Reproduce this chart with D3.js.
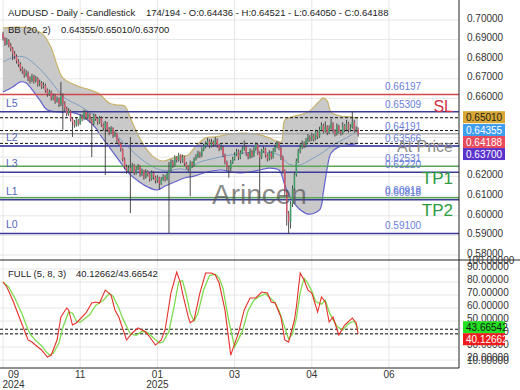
<!DOCTYPE html>
<html><head><meta charset="utf-8">
<script src="https://cdn.jsdelivr.net/npm/d3@7"></script>
<style>body{margin:0;background:#fff}svg{display:block;font-family:"Liberation Sans",Arial,sans-serif}</style>
</head><body><svg id="c" width="520" height="390"></svg>
<script>
// ---------- DATA ----------
const titleMain = "AUDUSD - Daily - Candlestick";
const titleBar = "174/194 - O:0.64436 - H:0.64521 - L:0.64050 - C:0.64188";
const bbTitle = "BB (20, 2)";
const bbLastText = "0.64355/0.65010/0.63700";
const stochTitle = "FULL (5, 8, 3)";
const stochLastText = "40.12662/43.66542";

const opens = [0.6930,0.6905,0.6880,0.6895,0.6870,0.6855,0.6830,0.6815,0.6790,0.6775,
0.6750,0.6740,0.6718,0.6730,0.6700,0.6690,0.6712,0.6688,0.6700,0.6672,
0.6680,0.6660,0.6668,0.6640,0.6620,0.6632,0.6600,0.6612,0.6585,0.6598,
0.6570,0.6612,0.6575,0.6548,0.6520,0.6535,0.6495,0.6478,0.6462,0.6488,
0.6470,0.6508,0.6495,0.6530,0.6500,0.6518,0.6488,0.6470,0.6512,0.6495,
0.6478,0.6500,0.6465,0.6448,0.6475,0.6440,0.6425,0.6448,0.6410,0.6420,
0.6385,0.6370,0.6340,0.6290,0.6250,0.6230,0.6245,0.6225,0.6258,0.6220,
0.6240,0.6252,0.6212,0.6230,0.6198,0.6225,0.6212,0.6188,0.6220,0.6198,
0.6180,0.6195,0.6165,0.6185,0.6200,0.6188,0.6215,0.6232,0.6275,0.6258,
0.6298,0.6285,0.6310,0.6280,0.6300,0.6268,0.6250,0.6238,0.6270,0.6258,
0.6290,0.6302,0.6320,0.6308,0.6338,0.6355,0.6368,0.6382,0.6358,0.6378,
0.6365,0.6388,0.6360,0.6342,0.6352,0.6310,0.6275,0.6248,0.6240,0.6272,
0.6290,0.6312,0.6330,0.6298,0.6322,0.6340,0.6352,0.6318,0.6300,0.6332,
0.6308,0.6340,0.6362,0.6320,0.6298,0.6330,0.6342,0.6310,0.6290,0.6322,
0.6300,0.6332,0.6352,0.6372,0.6345,0.6300,0.6230,0.6120,0.6010,0.5970,
0.6060,0.6140,0.6210,0.6280,0.6330,0.6352,0.6370,0.6358,0.6385,0.6402,
0.6390,0.6410,0.6392,0.6428,0.6405,0.6440,0.6462,0.6430,0.6455,0.6425,
0.6448,0.6470,0.6435,0.6418,0.6458,0.6432,0.6422,0.6460,0.6440,0.6472,
0.6438,0.6452,0.6480,0.6436,0.64436];
const highs = [0.6940,0.6912,0.6908,0.6902,0.6882,0.6862,0.6842,0.6825,0.6800,0.6785,
0.6762,0.6752,0.6745,0.6738,0.6712,0.6725,0.6720,0.6715,0.6708,0.6695,
0.6688,0.6682,0.6675,0.6650,0.6645,0.6640,0.6625,0.6620,0.6610,0.6605,
0.6684,0.6625,0.6585,0.6558,0.6550,0.6542,0.6505,0.6490,0.6500,0.6495,
0.6520,0.6518,0.6542,0.6538,0.6530,0.6525,0.6495,0.6522,0.6520,0.6502,
0.6510,0.6508,0.6472,0.6485,0.6480,0.6452,0.6458,0.6452,0.6432,0.6425,
0.6395,0.6378,0.6345,0.6298,0.6262,0.6258,0.6403,0.6270,0.6265,0.6252,
0.6265,0.6258,0.6242,0.6235,0.6238,0.6232,0.6218,0.6232,0.6228,0.6205,
0.6208,0.6200,0.6198,0.6212,0.6208,0.6225,0.6275,0.6288,0.6285,0.6310,
0.6305,0.6322,0.6315,0.6312,0.6305,0.6275,0.6258,0.6282,0.6278,0.6300,
0.6315,0.6332,0.6328,0.6350,0.6368,0.6380,0.6398,0.6390,0.6392,0.6385,
0.6403,0.6395,0.6368,0.6365,0.6358,0.6318,0.6282,0.6258,0.6285,0.6302,
0.6325,0.6342,0.6338,0.6335,0.6352,0.6385,0.6360,0.6325,0.6345,0.6338,
0.6352,0.6375,0.6368,0.6328,0.6342,0.6355,0.6348,0.6318,0.6335,0.6330,
0.6345,0.6365,0.6385,0.6380,0.6352,0.6308,0.6238,0.6130,0.6025,0.6075,
0.6155,0.6225,0.6292,0.6342,0.6365,0.6385,0.6380,0.6398,0.6418,0.6412,
0.6425,0.6418,0.6440,0.6435,0.6455,0.6478,0.6470,0.6482,0.6462,0.6462,
0.6495,0.6478,0.6442,0.6472,0.6465,0.6440,0.6478,0.6468,0.6490,0.6480,
0.6468,0.6535,0.6488,0.6458,0.64521];
const lows = [0.6895,0.6868,0.6872,0.6860,0.6840,0.6795,0.6800,0.6778,0.6760,0.6738,
0.6725,0.6705,0.6710,0.6688,0.6675,0.6682,0.6675,0.6680,0.6660,0.6662,
0.6648,0.6650,0.6628,0.6608,0.6612,0.6588,0.6590,0.6572,0.6578,0.6555,
0.6560,0.6440,0.6535,0.6508,0.6512,0.6482,0.6403,0.6450,0.6455,0.6458,
0.6465,0.6482,0.6488,0.6490,0.6492,0.6475,0.6300,0.6462,0.6485,0.6465,
0.6470,0.6455,0.6435,0.6208,0.6428,0.6412,0.6418,0.6398,0.6402,0.6372,
0.6358,0.6328,0.6278,0.6238,0.6215,0.6220,0.6014,0.6218,0.6208,0.6210,
0.6232,0.6200,0.6202,0.6185,0.6190,0.6200,0.6175,0.6180,0.6185,0.6165,
0.6168,0.6135,0.6158,0.6178,0.6175,0.6180,0.5912,0.6225,0.6245,0.6250,
0.6272,0.6278,0.6268,0.6272,0.6255,0.6238,0.6225,0.6100,0.6245,0.6250,
0.6282,0.6295,0.6296,0.6300,0.6330,0.6345,0.6360,0.6345,0.6350,0.6352,
0.6358,0.6348,0.6330,0.6335,0.6298,0.6262,0.6230,0.6195,0.6228,0.6265,
0.6282,0.6305,0.6285,0.6290,0.6315,0.6332,0.6305,0.6288,0.6292,0.6295,
0.6300,0.6332,0.6310,0.6091,0.6290,0.6322,0.6298,0.6278,0.6282,0.6288,
0.6292,0.6325,0.6345,0.6335,0.6285,0.6215,0.6100,0.5950,0.5907,0.5935,
0.6045,0.6130,0.6200,0.6270,0.6318,0.6340,0.6345,0.6350,0.6375,0.6378,
0.6382,0.6380,0.6385,0.6392,0.6398,0.6432,0.6420,0.6425,0.6412,0.6418,
0.6440,0.6422,0.6405,0.6410,0.6420,0.6410,0.6415,0.6428,0.6432,0.6425,
0.6430,0.6445,0.6425,0.6428,0.64050];
const closes = [0.6905,0.6880,0.6895,0.6870,0.6855,0.6830,0.6815,0.6790,0.6775,0.6750,
0.6740,0.6718,0.6730,0.6700,0.6690,0.6712,0.6688,0.6700,0.6672,0.6680,
0.6660,0.6668,0.6640,0.6620,0.6632,0.6600,0.6612,0.6585,0.6598,0.6570,
0.6612,0.6575,0.6548,0.6520,0.6535,0.6495,0.6478,0.6462,0.6488,0.6470,
0.6508,0.6495,0.6530,0.6500,0.6518,0.6488,0.6470,0.6512,0.6495,0.6478,
0.6500,0.6465,0.6448,0.6475,0.6440,0.6425,0.6448,0.6410,0.6420,0.6385,
0.6370,0.6340,0.6290,0.6250,0.6230,0.6245,0.6225,0.6258,0.6220,0.6240,
0.6252,0.6212,0.6230,0.6198,0.6225,0.6212,0.6188,0.6220,0.6198,0.6180,
0.6195,0.6165,0.6185,0.6200,0.6188,0.6215,0.6232,0.6275,0.6258,0.6298,
0.6285,0.6310,0.6280,0.6300,0.6268,0.6250,0.6238,0.6270,0.6258,0.6290,
0.6302,0.6320,0.6308,0.6338,0.6355,0.6368,0.6382,0.6358,0.6378,0.6365,
0.6388,0.6360,0.6342,0.6352,0.6310,0.6275,0.6248,0.6240,0.6272,0.6290,
0.6312,0.6330,0.6298,0.6322,0.6340,0.6352,0.6318,0.6300,0.6332,0.6308,
0.6340,0.6362,0.6320,0.6298,0.6330,0.6342,0.6310,0.6290,0.6322,0.6300,
0.6332,0.6352,0.6372,0.6345,0.6300,0.6230,0.6120,0.6010,0.5970,0.6060,
0.6140,0.6210,0.6280,0.6330,0.6352,0.6370,0.6358,0.6385,0.6402,0.6390,
0.6410,0.6392,0.6428,0.6405,0.6440,0.6462,0.6430,0.6455,0.6425,0.6448,
0.6470,0.6435,0.6418,0.6458,0.6432,0.6422,0.6460,0.6440,0.6472,0.6438,
0.6452,0.6480,0.6436,0.64436,0.64188];

// Bollinger bands (bar index, value)
const bbUpperIdx = [0,7,13,18,21,25,28,31,35,40,45,48,50,55,59,63,66,70,74,78,83,88,93,96,99,105,110,118,125,133,138,144,146,150,158,163,166,168,170,175,180,184];
const bbUpper = [0.6959,0.6964,0.6959,0.6944,0.6924,0.6857,0.6770,0.6704,0.6678,0.6658,0.6643,0.6632,0.6622,0.6576,0.6566,0.6561,0.6500,0.6413,0.6346,0.6301,0.6280,0.6295,0.6306,0.6311,0.6346,0.6398,0.6403,0.6418,0.6423,0.6413,0.6398,0.6377,0.6489,0.6505,0.6530,0.6576,0.6602,0.6587,0.6530,0.6510,0.6505,0.65010];
const bbLowerIdx = [0,5,9,12,14,19,23,30,35,40,48,50,55,60,65,70,75,80,84,89,94,99,106,113,118,123,128,133,138,143,146,149,153,158,164,166,168,170,174,179,184];
const bbLower = [0.6632,0.6658,0.6684,0.6678,0.6658,0.6592,0.6541,0.6530,0.6530,0.6515,0.6449,0.6418,0.6352,0.6285,0.6219,0.6178,0.6147,0.6132,0.6152,0.6173,0.6193,0.6203,0.6224,0.6234,0.6224,0.6219,0.6224,0.6234,0.6244,0.6234,0.6158,0.6091,0.6040,0.6009,0.6030,0.6122,0.6244,0.6321,0.6352,0.6362,0.63700];
const bbMidIdx = [0,6,11,17,22,27,32,40,48,53,56,60,66,71,76,81,86,92,96,101,110,118,125,133,143,148,153,160,166,171,178,184];
const bbMid = [0.6786,0.6811,0.6811,0.6770,0.6719,0.6658,0.6602,0.6560,0.6510,0.6470,0.6440,0.6400,0.6340,0.6295,0.6260,0.6236,0.6232,0.6240,0.6235,0.6270,0.6295,0.6311,0.6321,0.6326,0.6311,0.6265,0.6258,0.6290,0.6326,0.6362,0.6398,0.64355];
const bbLast = [0.65010, 0.64355, 0.63700];

// Stochastic %K (red) and %D (green)
const stochKIdx = [0,2,5,9,11,13,15,18,20,23,25,28,30,33,34,36,38,43,46,48,50,53,56,58,60,64,67,70,74,76,79,82,84,87,90,92,93,96,97,99,102,105,108,110,112,115,118,122,125,128,131,134,137,139,141,144,146,148,151,152,154,156,158,160,163,165,167,169,171,174,177,181,183,184];
const stochK = [80,76.2,66.2,50.8,43.1,35.4,33.8,30,27.7,22.3,23.8,35.4,53.1,60,58.5,46.9,48.5,56.2,63.8,64.6,63.8,73.8,70,58.5,53.1,35.4,40.8,44.6,41.5,37.7,31.5,35.4,43.1,71.5,87.7,79.2,71.5,53.1,48.5,50.8,71.5,86.9,86.9,85.4,79.2,58.5,23.8,40.8,58.5,67.7,67.7,72.3,71.5,64.6,63.8,53.1,35.4,33.8,50.8,60.8,86.9,81.5,73.8,71.5,56.9,68.5,64.6,49.2,53.1,39.2,46.9,52.3,48.5,40.12662];
const stochDIdx = [0,3,6,10,12,14,17,20,22,24,26,29,31,34,36,38,40,45,48,50,52,55,57,60,62,66,69,72,75,78,81,83,86,89,91,93,95,97,99,101,104,107,110,112,114,117,120,124,127,130,133,136,139,141,143,146,148,150,152,154,156,158,160,162,165,167,169,171,173,176,179,182,184];
const stochD = [80,76,68,55,47,40,35,31,27,24,25,33,45,57,56,50,49,55,62,64,66,71,69,60,52,40,39,42,41,37,33,34,42,64,80,81,70,56,50,56,74,85,86,83,75,50,30,42,58,66,69,71,67,64,58,45,36,40,52,72,83,79,73,65,63,66,57,51,46,43,48,50,43.66542];
const stochLast = [43.66542, 40.12662];

// axes
const priceTicks = [0.58,0.59,0.60,0.61,0.62,0.63,0.64,0.65,0.66,0.67,0.68,0.69,0.70];
const stochTicks = [10,20,30,40,50,60,70,80,90,100];
const xTickIdx = [0,40,80,120,160,200];
const xTickLabels = ["09","11","01","03","04","06"];
const yearLabels = ["2024","","2025","","",""];

// horizontal levels
const levelValues = [0.66197,0.65309,0.64191,0.63566,0.62531,0.62220,0.60918,0.60818,0.59100];
const levelNames = ["","L5","","L2","","L3","","L1","L0"];
const levelKinds = ["sl","lvl","price","lvl2","tp","lvl","tp","lvl","lvl"];
const annotTexts = ["SL","At Price","TP1","TP2"];
const annotValues = [0.66197,0.64191,0.62531,0.60918];
const annotKinds = ["sl","price","tp","tp"];

// right-axis value boxes
const mainBoxValues = [0.65010,0.64355,0.64188,0.63700];
const stochBoxValues = [43.66542,40.12662];

// ---------- STYLES ----------
const lineColor = {sl:"#d24848",lvl:"#3c3c98",lvl2:"#5b5bab",price:"#a6a6a6",tp:"#5aa55a"};
const annotColor = {sl:"#cf2f45",price:"#8c8c8c",tp:"#2e9a3e"};
const mainBoxFill = ["#d8a632","#3d9df0","#e94b5c","#5a33cc"];
const mainBoxText = ["#222","#fff","#fff","#fff"];
const stochBoxFill = ["#22e022","#ee1c1c"];
const stochBoxText = ["#1a1a1a","#fff"];

// ---------- DRAW ----------
const svg = d3.select("#c");
const plotR = 459, mainBot = 260, subBot = 368;
const x = d3.scaleLinear().domain([0,200]).range([3,389]);
const y = d3.scaleLinear().domain([0.58,0.70]).range([255,20]);
const ys = d3.scaleLinear().domain([10,100]).range([373,256]);
const FONT = "Liberation Sans, Arial, sans-serif";

svg.append("rect").attr("width",520).attr("height",390).attr("fill","#fff");
const defs = svg.append("defs");
defs.append("clipPath").attr("id","cm").append("rect").attr("x",0).attr("y",0).attr("width",plotR).attr("height",mainBot);
defs.append("clipPath").attr("id","cs").append("rect").attr("x",0).attr("y",mainBot).attr("width",plotR).attr("height",subBot-mainBot);

// grid
const grid = svg.append("g").attr("stroke","#e6e6e6").attr("stroke-width",1);
grid.selectAll(".vg").data(xTickIdx).join("line")
  .attr("x1",d=>x(d)).attr("x2",d=>x(d)).attr("y1",0).attr("y2",subBot);
grid.append("g").attr("clip-path","url(#cm)").selectAll("line").data(priceTicks).join("line")
  .attr("x1",0).attr("x2",plotR).attr("y1",d=>y(d)).attr("y2",d=>y(d));
grid.append("g").attr("clip-path","url(#cs)").selectAll("line").data(stochTicks).join("line")
  .attr("x1",0).attr("x2",plotR).attr("y1",d=>ys(d)).attr("y2",d=>ys(d));

// main panel
const main = svg.append("g").attr("clip-path","url(#cm)");
const up = bbUpperIdx.map((d,i)=>[x(d),y(bbUpper[i])]);
const lo = bbLowerIdx.map((d,i)=>[x(d),y(bbLower[i])]);
const md = bbMidIdx.map((d,i)=>[x(d),y(bbMid[i])]);
const lineGen = d3.line().curve(d3.curveCatmullRom.alpha(0.5));
const lineLin = d3.line();
const fillPath = lineGen(up) + "L" + lineGen(lo.slice().reverse()).slice(1) + "Z";
main.append("path").attr("d",fillPath).attr("fill","#c3c3c3").attr("fill-opacity",0.9);
main.append("path").attr("d",lineGen(up)).attr("fill","none").attr("stroke","#c9b26a").attr("stroke-width",1.2);
main.append("path").attr("d",lineGen(lo)).attr("fill","none").attr("stroke","#6262d0").attr("stroke-width",1.2);
main.append("path").attr("d",lineGen(md)).attr("fill","none").attr("stroke","#7f9fc4").attr("stroke-width",1);

// levels
main.selectAll(".lv").data(levelValues).join("line")
  .attr("x1",0).attr("x2",plotR).attr("y1",d=>y(d)).attr("y2",d=>y(d))
  .attr("stroke",(d,i)=>lineColor[levelKinds[i]])
  .attr("stroke-width",(d,i)=>levelKinds[i]==="lvl2"?2:1.5);
// BB last dashed
main.selectAll(".bd").data(bbLast).join("line")
  .attr("x1",0).attr("x2",plotR).attr("y1",d=>y(d)).attr("y2",d=>y(d))
  .attr("stroke","#111").attr("stroke-width",1).attr("stroke-dasharray","3,2");

// candles
const bars = d3.range(closes.length);
main.append("g").selectAll("line").data(bars).join("line")
  .attr("x1",i=>x(i)).attr("x2",i=>x(i)).attr("y1",i=>y(highs[i])).attr("y2",i=>y(lows[i]))
  .attr("stroke","#3a3a3a").attr("stroke-width",0.9);
main.append("g").selectAll("rect").data(bars).join("rect")
  .attr("x",i=>x(i)-0.75).attr("width",1.5)
  .attr("y",i=>y(Math.max(opens[i],closes[i])))
  .attr("height",i=>Math.max(0.8,Math.abs(y(opens[i])-y(closes[i]))))
  .attr("fill",i=>closes[i]>=opens[i]?"#3f9e68":"#d4566b");

// level value labels
svg.selectAll(".lvt").data(levelValues).join("text")
  .attr("x",385).attr("y",d=>y(d)-4).text(d=>d3.format(".5f")(d))
  .attr("font-family",FONT).attr("font-size",10).attr("fill","#6a80d8");
svg.selectAll(".lnm").data(levelValues).join("text")
  .attr("x",6).attr("y",d=>y(d)-5).text((d,i)=>levelNames[i])
  .attr("font-family",FONT).attr("font-size",10.5).attr("fill","#5666b6");
svg.selectAll(".ann").data(annotValues).join("text")
  .attr("x",453).attr("y",d=>y(d)+18).attr("text-anchor","end").text((d,i)=>annotTexts[i])
  .attr("font-family",FONT).attr("font-size",(d,i)=>annotKinds[i]==="tp"?17:16)
  .attr("fill",(d,i)=>annotColor[annotKinds[i]]);
// watermark
svg.append("text").attr("x",212).attr("y",204).text("Arincen")
  .attr("font-family",FONT).attr("font-size",28).attr("fill","#555").attr("fill-opacity",0.7);

// stochastic panel
const sub = svg.append("g").attr("clip-path","url(#cs)");
sub.selectAll(".sd").data(stochLast).join("line")
  .attr("x1",0).attr("x2",plotR).attr("y1",d=>ys(d)).attr("y2",d=>ys(d))
  .attr("stroke","#111").attr("stroke-width",1).attr("stroke-dasharray","3,2");
sub.append("path").attr("d",lineLin(stochDIdx.map((d,i)=>[x(d),ys(stochD[i])])))
  .attr("fill","none").attr("stroke","#7fdc50").attr("stroke-width",1.3);
sub.append("path").attr("d",lineLin(stochKIdx.map((d,i)=>[x(d),ys(stochK[i])])))
  .attr("fill","none").attr("stroke","#e5302a").attr("stroke-width",1.1);

// frame
svg.append("line").attr("x1",plotR).attr("x2",plotR).attr("y1",0).attr("y2",subBot).attr("stroke","#222");
svg.append("line").attr("x1",0).attr("x2",520).attr("y1",mainBot).attr("y2",mainBot).attr("stroke","#222");
svg.append("line").attr("x1",0).attr("x2",plotR).attr("y1",subBot).attr("y2",subBot).attr("stroke","#222");

// axes
const ya = svg.append("g").attr("transform",`translate(${plotR},0)`)
  .call(d3.axisRight(y).tickValues(priceTicks).tickFormat(d3.format(".5f")).tickSize(0).tickPadding(8));
ya.select(".domain").remove();
ya.attr("font-family",FONT).attr("font-size",10);
ya.selectAll("text").attr("fill","#333").attr("dy","0.12em");

const ysa = svg.append("g").attr("transform",`translate(${plotR},0)`)
  .call(d3.axisRight(ys).tickValues(stochTicks).tickFormat(d3.format(".5f")).tickSize(0).tickPadding(8));
ysa.select(".domain").remove();
ysa.attr("font-family",FONT).attr("font-size",10);
ysa.selectAll(".tick").attr("transform",d=>`translate(0,${Math.max(263,Math.min(363,ys(d)))})`);
ysa.selectAll("text").attr("fill","#333").attr("dy","0.12em");

const xa = svg.append("g").attr("transform",`translate(0,${subBot})`)
  .call(d3.axisBottom(x).tickValues(xTickIdx).tickFormat((d,i)=>xTickLabels[i]).tickSize(0).tickPadding(3));
xa.select(".domain").remove();
xa.attr("font-family",FONT).attr("font-size",10);
xa.selectAll(".tick").attr("transform",d=>`translate(${Math.max(x(d),13.5)},0)`);
xa.selectAll("text").attr("fill","#333");
svg.selectAll(".yr").data(xTickIdx).join("text")
  .attr("x",d=>Math.max(x(d),13.5)).attr("y",388).attr("text-anchor","middle")
  .text((d,i)=>yearLabels[i]).attr("font-family",FONT).attr("font-size",10).attr("fill","#333");

// value boxes
function stackBoxes(vals, scale){
  const out=[]; let prev=-1e9;
  vals.forEach(v=>{ const c=Math.max(scale(v)-0.5, prev+12); out.push(c); prev=c; });
  return out;
}
const mc = stackBoxes(mainBoxValues, y);
const mb = svg.append("g");
mb.selectAll("rect").data(mainBoxValues).join("rect")
  .attr("x",463).attr("width",42).attr("y",(d,i)=>mc[i]-6).attr("height",12)
  .attr("fill",(d,i)=>mainBoxFill[i]);
mb.selectAll("text").data(mainBoxValues).join("text")
  .attr("x",466).attr("y",(d,i)=>mc[i]+3.6).text(d=>d3.format(".5f")(d))
  .attr("font-family",FONT).attr("font-size",10).attr("fill",(d,i)=>mainBoxText[i]);
const sc = stackBoxes(stochBoxValues, v=>ys(v)-1.5);
const sb = svg.append("g");
sb.selectAll("rect").data(stochBoxValues).join("rect")
  .attr("x",463).attr("width",42).attr("y",(d,i)=>sc[i]-6).attr("height",12)
  .attr("fill",(d,i)=>stochBoxFill[i]);
sb.selectAll("text").data(stochBoxValues).join("text")
  .attr("x",466).attr("y",(d,i)=>sc[i]+3.6).text(d=>d3.format(".5f")(d))
  .attr("font-family",FONT).attr("font-size",10).attr("fill",(d,i)=>stochBoxText[i]);

// titles
const tt = svg.append("g").attr("font-family",FONT).attr("font-size",9.5).attr("fill","#222");
tt.append("text").attr("x",8).attr("y",16).text(titleMain);
tt.append("text").attr("x",146).attr("y",16).text(titleBar);
tt.append("text").attr("x",8).attr("y",33).text(bbTitle);
tt.append("text").attr("x",61).attr("y",33).text(bbLastText);
tt.append("text").attr("x",8).attr("y",277).text(stochTitle);
tt.append("text").attr("x",76).attr("y",277).text(stochLastText);
</script></body></html>
